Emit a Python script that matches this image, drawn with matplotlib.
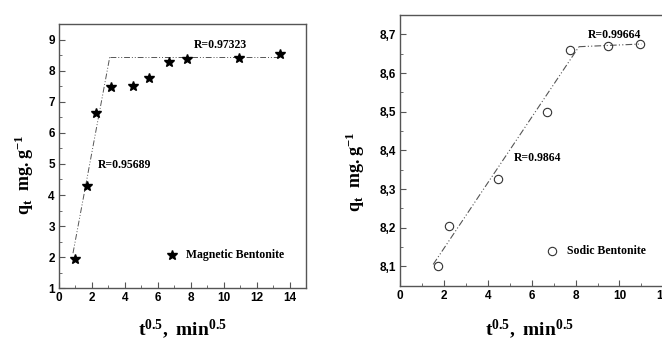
import matplotlib.pyplot as plt
from matplotlib.ticker import MultipleLocator, FuncFormatter

plt.rcParams['mathtext.fontset'] = 'custom'
plt.rcParams['mathtext.rm'] = 'Liberation Serif:bold'
plt.rcParams['mathtext.it'] = 'Liberation Serif:bold'
plt.rcParams['mathtext.bf'] = 'Liberation Serif:bold'

# Magnetic bentonite (left)
mag_x = [1.0, 1.73, 2.24, 3.16, 4.47, 5.48, 6.71, 7.75, 10.95, 13.42]
mag_q = [1.95, 4.28, 6.64, 7.47, 7.50, 7.76, 8.27, 8.36, 8.40, 8.55]
mag_fit1_x = [0.85, 3.08]
mag_fit1_y = [2.13, 8.43]
mag_fit2_x = [3.08, 13.4]
mag_fit2_y = [8.43, 8.43]

# Sodic bentonite (right)
sod_x = [1.73, 2.24, 4.47, 6.71, 7.75, 9.49, 10.95]
sod_q = [8.10, 8.205, 8.326, 8.499, 8.66, 8.669, 8.675]
sod_fit1_x = [1.5, 8.15]
sod_fit1_y = [8.105, 8.668]
sod_fit2_x = [8.15, 11.0]
sod_fit2_y = [8.668, 8.675]

fig = plt.figure(figsize=(6.62, 3.40), dpi=100)
W, H = 662.0, 340.0
ax1 = fig.add_axes([59 / W, 1 - 288.3 / H, 247 / W, 264.3 / H])
ax2 = fig.add_axes([400.3 / W, 1 - 285.7 / H, 263 / W, 270.7 / H])

ls = (0, (6, 2, 1, 2, 1, 2))
lc = '#555555'
tfont = dict(family='Liberation Serif', weight='bold')

# left panel
ax1.plot(mag_fit1_x, mag_fit1_y, ls=ls, color=lc, lw=0.7)
ax1.plot(mag_fit2_x, mag_fit2_y, ls=ls, color=lc, lw=0.7)
ax1.plot(mag_x, mag_q, '*', color='black', ms=7.5)
ax1.plot([6.84], [2.07], '*', color='black', ms=7.5)
ax1.text(7.7, 2.07, 'Magnetic Bentonite', fontsize=8.5, va='center', **tfont)
ax1.text(2.37, 4.95, 'R=0.95689', fontsize=8.5, va='center', **tfont)
ax1.text(8.22, 8.84, 'R=0.97323', fontsize=8.5, va='center', **tfont)
ax1.set_xlim(0, 15)
ax1.set_ylim(1, 9.5)
ax1.xaxis.set_major_locator(MultipleLocator(2))
ax1.xaxis.set_minor_locator(MultipleLocator(1))
ax1.yaxis.set_major_locator(MultipleLocator(1))
ax1.yaxis.set_minor_locator(MultipleLocator(0.5))
ax1.set_ylabel(r'$\mathrm{q_t\ \ mg.g^{-1}}$', fontsize=13)
ax1.yaxis.set_label_coords(-0.095, 0.43)
ax1.set_xlabel(r'$\mathrm{t^{0.5},\ min^{0.5}}$', fontsize=14)
ax1.xaxis.set_label_coords(0.5, -0.11)

# right panel
ax2.plot(sod_fit1_x, sod_fit1_y, ls=ls, color=lc, lw=0.8)
ax2.plot(sod_fit2_x, sod_fit2_y, ls=ls, color=lc, lw=0.8)
ax2.plot(sod_x, sod_q, 'o', mfc='none', mec='#333333', mew=0.8, ms=6)
ax2.plot([6.94], [8.139], 'o', mfc='none', mec='#333333', mew=0.8, ms=6)
ax2.text(7.6, 8.139, 'Sodic Bentonite', fontsize=8.5, va='center', **tfont)
ax2.text(5.16, 8.38, 'R=0.9864', fontsize=8.5, va='center', **tfont)
ax2.text(8.54, 8.698, 'R=0.99664', fontsize=8.5, va='center', **tfont)
ax2.set_xlim(0, 12)
ax2.set_ylim(8.05, 8.75)
ax2.xaxis.set_major_locator(MultipleLocator(2))
ax2.xaxis.set_minor_locator(MultipleLocator(1))
ax2.yaxis.set_major_locator(MultipleLocator(0.1))
ax2.yaxis.set_minor_locator(MultipleLocator(0.05))
ax2.yaxis.set_major_formatter(FuncFormatter(lambda v, p: ('%.1f' % v).replace('.', ',')))
ax2.set_ylabel(r'$\mathrm{q_t\ \ mg.g^{-1}}$', fontsize=13)
ax2.yaxis.set_label_coords(-0.125, 0.42)
ax2.set_xlabel(r'$\mathrm{t^{0.5},\ min^{0.5}}$', fontsize=14)
ax2.xaxis.set_label_coords(0.49, -0.115)

for ax in (ax1, ax2):
    for s in ax.spines.values():
        s.set_color('#555555')
        s.set_linewidth(1.0)
    ax.tick_params(which='both', direction='in', top=False, right=False,
                   color='#555555', labelsize=8.5, pad=3)
    ax.tick_params(which='major', length=4)
    ax.tick_params(which='minor', length=2.5)
    for lab in ax.get_xticklabels() + ax.get_yticklabels():
        lab.set_family('Liberation Sans')
        lab.set_weight('bold')

fig.savefig('out.png', dpi=100)
